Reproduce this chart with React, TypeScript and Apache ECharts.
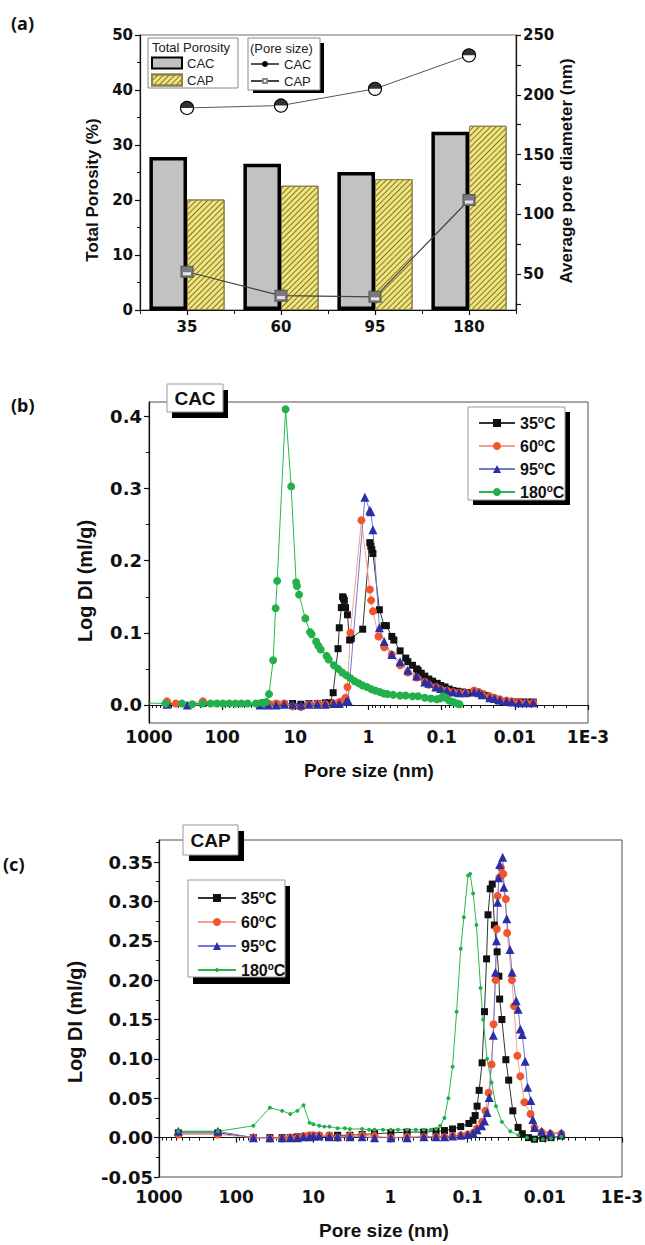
import React, { useEffect, useRef } from 'react';
import * as echarts from 'echarts';

// ---------- Panel (a) data ----------
const temperatures = ['35', '60', '95', '180'];
const porosityCAC = [27.8, 26.6, 25.1, 32.4];
const porosityCAP = [20.1, 22.6, 23.8, 33.5];
const poreSizeCAC = [189, 191, 205, 233];
const poreSizeCAP = [52, 32, 31, 112];
const rightTickLabels = [50, 100, 150, 200, 250];
const rightTicks = [25, 50, 75, 100, 125, 150, 175, 200, 225, 250];

// ---------- Panel (b) CAC data: [pore size (nm), Log DI (ml/g)] ----------
const cac35 = [
  [570, 0.002], [183, 0.002], [30.4, 0.001], [23.6, 0.001], [18.3, 0.001], [14.2, 0.001], [10.9, 0.002], [8.4, 0.001],
  [6.5, 0.002], [5.0, 0.002], [3.9, 0.003], [3.37, 0.003], [3.04, 0.017], [2.61, 0.078], [2.51, 0.107], [2.35, 0.135],
  [2.26, 0.15], [2.2, 0.148], [2.14, 0.145], [2.06, 0.135], [1.94, 0.125], [1.81, 0.09], [1.72, 0.092], [1.2, 0.105],
  [0.96, 0.225], [0.93, 0.22], [0.9, 0.215], [0.87, 0.21], [0.71, 0.132], [0.61, 0.11], [0.57, 0.11], [0.48, 0.095],
  [0.45, 0.09], [0.37, 0.075], [0.31, 0.065], [0.29, 0.06], [0.25, 0.055], [0.22, 0.05], [0.21, 0.048], [0.19, 0.044],
  [0.17, 0.04], [0.15, 0.036], [0.133, 0.033], [0.115, 0.03], [0.103, 0.027], [0.09, 0.025], [0.079, 0.022], [0.07, 0.02],
  [0.061, 0.019], [0.053, 0.018], [0.047, 0.017], [0.041, 0.017], [0.036, 0.018], [0.032, 0.017], [0.028, 0.015],
  [0.025, 0.013], [0.022, 0.01], [0.019, 0.008], [0.0168, 0.006], [0.0145, 0.005], [0.013, 0.004], [0.0114, 0.004],
  [0.01, 0.004], [0.0088, 0.004], [0.0077, 0.004], [0.0066, 0.004], [0.0056, 0.004],
];
const cac60 = [
  [570, 0.005], [430, 0.002], [183, 0.005], [30.4, 0.002], [23.6, 0.001], [18.3, 0.002], [14.2, 0.002], [10.9, -0.002],
  [8.4, -0.003], [6.5, 0.001], [5.0, 0.002], [3.9, 0.001], [3.0, 0.002], [2.5, 0.004], [2.29, 0.005], [2.06, 0.01],
  [1.94, 0.025], [1.77, 0.1], [1.25, 0.256], [0.96, 0.16], [0.92, 0.145], [0.87, 0.13], [0.73, 0.095], [0.61, 0.08],
  [0.48, 0.07], [0.37, 0.055], [0.29, 0.045], [0.22, 0.038], [0.17, 0.032], [0.15, 0.028], [0.12, 0.025], [0.103, 0.022],
  [0.085, 0.02], [0.07, 0.018], [0.058, 0.017], [0.047, 0.017], [0.036, 0.02], [0.031, 0.018], [0.028, 0.015],
  [0.022, 0.012], [0.019, 0.01], [0.016, 0.008], [0.013, 0.006], [0.011, 0.005], [0.0088, 0.004], [0.007, 0.003],
  [0.0056, 0.003],
];
const cac95 = [
  [570, 0.001], [300, 0.0], [30.4, 0.0], [23.6, 0.0], [18.3, 0.0], [14.2, 0.001], [10.9, 0.001], [8.4, 0.0], [6.5, 0.001],
  [5.0, 0.001], [3.9, 0.001], [3.0, 0.002], [2.5, 0.002], [2.01, 0.005], [1.9, 0.006], [1.12, 0.288], [0.96, 0.27],
  [0.93, 0.268], [0.87, 0.243], [0.71, 0.107], [0.61, 0.088], [0.48, 0.07], [0.37, 0.06], [0.29, 0.048], [0.22, 0.04],
  [0.17, 0.032], [0.15, 0.03], [0.12, 0.025], [0.103, 0.023], [0.085, 0.02], [0.07, 0.018], [0.058, 0.017],
  [0.047, 0.017], [0.036, 0.018], [0.031, 0.017], [0.028, 0.014], [0.022, 0.01], [0.019, 0.009], [0.016, 0.007],
  [0.013, 0.005], [0.011, 0.004], [0.0088, 0.003], [0.007, 0.003], [0.0056, 0.003],
];
const cac180 = [
  [1500, 0.003], [596, 0.002], [355, 0.002], [257, 0.001], [186, 0.002], [144, 0.002], [118, 0.002], [97.5, 0.002],
  [80, 0.002], [66, 0.002], [54.5, 0.002], [44.9, 0.002], [34.6, 0.002], [28.5, 0.003], [25.1, 0.004], [22.9, 0.015],
  [20.1, 0.062], [18.6, 0.134], [17.7, 0.172], [13.6, 0.41], [11.4, 0.303], [9.75, 0.17], [9.5, 0.165], [8.9, 0.153],
  [7.3, 0.12], [6.3, 0.101], [6.0, 0.098], [5.2, 0.088], [4.85, 0.082], [4.5, 0.077], [3.74, 0.068], [3.5, 0.063],
  [2.97, 0.055], [2.6, 0.05], [2.29, 0.045], [2.0, 0.041], [1.77, 0.037], [1.55, 0.033], [1.36, 0.03], [1.2, 0.027],
  [1.05, 0.025], [0.92, 0.022], [0.81, 0.02], [0.7, 0.018], [0.62, 0.016], [0.55, 0.015], [0.46, 0.014], [0.37, 0.013],
  [0.31, 0.013], [0.25, 0.012], [0.21, 0.012], [0.17, 0.01], [0.14, 0.009], [0.117, 0.008], [0.105, 0.009],
  [0.096, 0.012], [0.088, 0.01], [0.079, 0.006], [0.07, 0.004], [0.061, 0.002], [0.057, 0.001],
];

// ---------- Panel (c) CAP data ----------
const cap35 = [
  [562, 0.006], [173, 0.006], [59.8, 0.0], [36.6, 0.0], [25.4, 0.0], [19.9, 0.0], [16.1, 0.001], [13.4, 0.001],
  [11.2, 0.002], [10, 0.002], [8.4, 0.002], [6.2, 0.002], [4.85, 0.003], [3.36, 0.003], [2.33, 0.004], [1.61, 0.005],
  [0.99, 0.006], [0.61, 0.007], [0.37, 0.007], [0.257, 0.008], [0.2, 0.009], [0.157, 0.011], [0.123, 0.014],
  [0.0964, 0.018], [0.085, 0.022], [0.08, 0.028], [0.0755, 0.04], [0.071, 0.06], [0.065, 0.095], [0.0605, 0.16],
  [0.0569, 0.227], [0.0545, 0.283], [0.051, 0.316], [0.048, 0.322], [0.045, 0.27], [0.0415, 0.236], [0.0394, 0.205],
  [0.0385, 0.176], [0.036, 0.15], [0.032, 0.099], [0.0294, 0.073], [0.026, 0.034], [0.0222, 0.013], [0.0196, 0.005],
  [0.0163, 0.0], [0.0136, -0.002], [0.0106, -0.001], [0.0083, 0.0], [0.0061, 0.002],
];
const cap60 = [
  [562, 0.004], [173, 0.004], [59.8, 0.0], [36.6, -0.001], [25.4, -0.001], [19.9, 0.0], [16.1, 0.0], [13.4, 0.002],
  [11.2, 0.003], [10, 0.003], [8.4, 0.003], [6.2, 0.003], [4.85, 0.0], [3.36, 0.002], [2.33, 0.003], [1.61, 0.002],
  [0.99, 0.0], [0.61, 0.001], [0.37, 0.001], [0.257, 0.001], [0.2, 0.001], [0.157, 0.002], [0.123, 0.003], [0.1, 0.004],
  [0.085, 0.006], [0.0755, 0.012], [0.065, 0.02], [0.059, 0.034], [0.0536, 0.057], [0.049, 0.093], [0.0462, 0.144],
  [0.0435, 0.2], [0.0419, 0.265], [0.0409, 0.307], [0.039, 0.33], [0.0371, 0.343], [0.0345, 0.335], [0.032, 0.303],
  [0.0308, 0.26], [0.0267, 0.2], [0.0251, 0.167], [0.0227, 0.104], [0.0208, 0.078], [0.0184, 0.045], [0.0153, 0.03],
  [0.0136, 0.013], [0.011, 0.007], [0.0085, 0.005], [0.0061, 0.005],
];
const cap95 = [
  [562, 0.008], [173, 0.008], [59.8, 0.0], [36.6, 0.0], [25.4, 0.0], [19.9, 0.0], [16.1, 0.0], [13.4, 0.001],
  [11.2, 0.001], [10, 0.002], [8.4, 0.002], [6.2, 0.001], [4.85, 0.001], [3.36, 0.001], [2.33, 0.001], [1.61, 0.0],
  [0.99, 0.0], [0.61, 0.0], [0.37, 0.001], [0.257, 0.001], [0.2, 0.001], [0.157, 0.002], [0.123, 0.003], [0.1, 0.004],
  [0.085, 0.006], [0.0755, 0.01], [0.066, 0.015], [0.0605, 0.021], [0.056, 0.032], [0.0526, 0.051], [0.0465, 0.13],
  [0.0436, 0.21], [0.0424, 0.25], [0.0409, 0.299], [0.0397, 0.33], [0.0385, 0.347], [0.0352, 0.356], [0.034, 0.318],
  [0.0312, 0.278], [0.0283, 0.239], [0.0266, 0.21], [0.0235, 0.174], [0.0222, 0.163], [0.0208, 0.138], [0.0196, 0.131],
  [0.018, 0.097], [0.0167, 0.064], [0.0152, 0.047], [0.0143, 0.023], [0.0136, 0.013], [0.011, 0.008], [0.0085, 0.006],
  [0.0061, 0.006],
];
const cap180 = [
  [562, 0.008], [173, 0.008], [59.8, 0.015], [36.6, 0.038], [25.4, 0.034], [19.9, 0.03], [16.1, 0.034], [13.4, 0.041],
  [11.2, 0.019], [10, 0.017], [8.4, 0.015], [7.2, 0.014], [6.2, 0.014], [4.85, 0.012], [3.9, 0.012], [3.36, 0.011],
  [2.33, 0.011], [1.9, 0.01], [1.61, 0.01], [1.25, 0.01], [0.99, 0.01], [0.8, 0.01], [0.61, 0.01], [0.47, 0.01],
  [0.37, 0.01], [0.3, 0.01], [0.257, 0.011], [0.227, 0.015], [0.2, 0.025], [0.178, 0.05], [0.157, 0.09], [0.139, 0.16],
  [0.123, 0.24], [0.112, 0.28], [0.0988, 0.333], [0.093, 0.335], [0.085, 0.31], [0.077, 0.27], [0.068, 0.19],
  [0.063, 0.15], [0.056, 0.1], [0.049, 0.07], [0.043, 0.04], [0.036, 0.02], [0.028, 0.008], [0.022, 0.003],
  [0.017, 0.0], [0.0136, -0.002], [0.0106, -0.002], [0.0083, -0.001], [0.0061, 0.001],
];

// ---------- tick lists ----------
const logMajorTicks = [1000, 100, 10, 1, 0.1, 0.01, 0.001];
const yTicksB = [0, 0.1, 0.2, 0.3, 0.4];
const yMinorB = [0.05, 0.15, 0.25, 0.35];
const yTicksC = [-0.05, 0, 0.05, 0.1, 0.15, 0.2, 0.25, 0.3, 0.35];
const yMinorC = [-0.025, 0.025, 0.075, 0.125, 0.175, 0.225, 0.275, 0.325, 0.375];

const logMinorTicks: number[] = [];
for (let e = -3; e < 3; e++) {
  for (let k = 2; k <= 9; k++) logMinorTicks.push(Number((k * Math.pow(10, e)).toPrecision(4)));
}

const FT = 'DejaVu Sans';
const FA = 'Liberation Sans, Arial, sans-serif';
const AX = '#111';

function logLabel(v: number): string {
  const e = Math.round(Math.log10(v));
  if (e <= -3) return '1E-3';
  if (e >= 0) return String(Math.round(Math.pow(10, e)));
  return Math.pow(10, e).toFixed(-e);
}

const LOG_MIN = 0.0009999;
const LOG_MAX = 1000.1;

function logAxis(grid: number, margin: number, fontSize: number) {
  return {
    type: 'log', gridIndex: grid, logBase: 10, min: LOG_MIN, max: LOG_MAX, inverse: true, position: 'bottom',
    axisLine: { show: true, lineStyle: { color: AX, width: 1.2 } },
    axisTick: { show: true, length: 5, customValues: logMajorTicks, lineStyle: { color: AX, width: 1.2 } },
    axisLabel: { customValues: logMajorTicks, formatter: logLabel, margin, fontFamily: FT, fontWeight: 'bold', fontSize, color: AX },
    splitLine: { show: false }, minorTick: { show: false },
  };
}
function logMinorAxis(grid: number) {
  return {
    type: 'log', gridIndex: grid, logBase: 10, min: LOG_MIN, max: LOG_MAX, inverse: true, position: 'bottom',
    axisLine: { show: false },
    axisTick: { show: true, length: 3, customValues: logMinorTicks, lineStyle: { color: AX, width: 1 } },
    axisLabel: { show: false }, splitLine: { show: false },
  };
}
function valAxis(grid: number, min: number, max: number, ticks: number[], digits: number, fontSize: number, margin: number) {
  return {
    type: 'value', gridIndex: grid, min, max, position: 'left',
    axisLine: { show: true, lineStyle: { color: AX, width: 1.2 } },
    axisTick: { show: true, length: 5, customValues: ticks, lineStyle: { color: AX, width: 1.2 } },
    axisLabel: { customValues: ticks, formatter: (v: number) => v.toFixed(digits), margin, fontFamily: FT, fontWeight: 'bold', fontSize, color: AX },
    splitLine: { show: false },
  };
}
function valMinorAxis(grid: number, min: number, max: number, ticks: number[]) {
  return {
    type: 'value', gridIndex: grid, min, max, position: 'left',
    axisLine: { show: false },
    axisTick: { show: true, length: 3, customValues: ticks, lineStyle: { color: AX, width: 1 } },
    axisLabel: { show: false }, splitLine: { show: false },
  };
}

const halfDisc = 'path://M0,10 A10,10 0 0 1 20,10 Z';

function tempSeries(name: string, data: number[][], xi: number, yi: number, kind: string, small: boolean) {
  const styles: Record<string, any> = {
    '35': { symbol: 'rect', symbolSize: 7, color: '#111111', line: '#333333' },
    '60': { symbol: 'circle', symbolSize: 8, color: '#f2552c', line: '#f5a08a' },
    '95': { symbol: 'triangle', symbolSize: 9, color: '#2a2fa6', line: '#7078d8' },
    '180': { symbol: 'circle', symbolSize: small ? 4 : 8, color: '#22b04c', line: '#2cb553' },
  };
  const s = styles[kind];
  return {
    type: 'line', name, xAxisIndex: xi, yAxisIndex: yi, data,
    symbol: s.symbol, symbolSize: s.symbolSize, showSymbol: true, clip: true,
    itemStyle: { color: s.color },
    lineStyle: { color: s.line, width: 1 },
  };
}

function boxRect(x: number, y: number, w: number, h: number, stroke: string, z: number) {
  return { type: 'rect', z, shape: { x, y, width: w, height: h }, style: { fill: '#fff', stroke, lineWidth: 1 } };
}
function shadowRect(x: number, y: number, w: number, h: number, z: number) {
  return { type: 'rect', z, shape: { x, y, width: w, height: h }, style: { fill: '#000' } };
}
function label(text: string, x: number, y: number, size: number, opts: any = {}) {
  return {
    type: 'text', z: 5, x, y, rotation: opts.rotation || 0,
    style: {
      text, fontFamily: opts.family || FA, fontWeight: opts.weight || 'bold', fontSize: size, fill: opts.color || '#111',
      align: opts.align || 'center', verticalAlign: 'middle',
    },
  };
}

const degRich = { s: { fontSize: 10, fontWeight: 'bold', fontFamily: FA, verticalAlign: 'top', color: '#111' } };
const tempLegendText = { fontFamily: FA, fontWeight: 'bold', fontSize: 16, color: '#111', lineHeight: 18, rich: degRich };
const tempFormatter = (n: string) => n.slice(1) + '{s|o}C';

function buildOption() {
  return {
    animation: false,
    backgroundColor: '#fff',
    grid: [
      { left: 140, top: 35, width: 376, height: 275, show: true, borderColor: '#7a6a66', borderWidth: 1, outerBoundsMode: 'none' },
      { left: 149, top: 402, width: 439, height: 321, show: true, borderColor: '#5a4a45', borderWidth: 1, outerBoundsMode: 'none' },
      { left: 159, top: 840, width: 463, height: 337, show: true, borderColor: '#5a4a45', borderWidth: 1, outerBoundsMode: 'none' },
    ],
    xAxis: [
      {
        type: 'category', gridIndex: 0, data: temperatures, position: 'bottom',
        axisLine: { show: true, lineStyle: { color: AX, width: 1.2 } },
        axisTick: { show: true, alignWithLabel: true, length: 5, lineStyle: { color: AX, width: 1.2 } },
        axisLabel: { margin: 9, fontFamily: FT, fontWeight: 'bold', fontSize: 15, color: AX },
        splitLine: { show: false },
      },
      {
        type: 'category', gridIndex: 0, data: temperatures, position: 'bottom',
        axisLine: { show: false },
        axisTick: { show: true, alignWithLabel: false, interval: 0, length: 4, lineStyle: { color: AX, width: 1 } },
        axisLabel: { show: false }, splitLine: { show: false },
      },
      logAxis(1, 5, 17),
      logMinorAxis(1),
      logAxis(2, 11, 17),
      logMinorAxis(2),
    ],
    yAxis: [
      {
        type: 'value', gridIndex: 0, min: 0, max: 50, interval: 10, position: 'left',
        axisLine: { show: true, lineStyle: { color: AX, width: 1.2 } },
        axisTick: { show: true, length: 5, lineStyle: { color: AX, width: 1.2 } },
        minorTick: { show: true, splitNumber: 2, length: 3, lineStyle: { color: AX } },
        axisLabel: { margin: 7, fontFamily: FT, fontWeight: 'bold', fontSize: 15, color: AX },
        splitLine: { show: false },
      },
      {
        type: 'value', gridIndex: 0, min: 20, max: 250, position: 'right',
        axisLine: { show: true, lineStyle: { color: AX, width: 1.2 } },
        axisTick: { show: true, length: 5, customValues: rightTicks, lineStyle: { color: AX, width: 1.2 } },
        axisLabel: { customValues: rightTickLabels, margin: 7, fontFamily: FT, fontWeight: 'bold', fontSize: 15, color: AX },
        splitLine: { show: false },
      },
      valAxis(1, -0.025, 0.42, yTicksB, 1, 18, 7),
      valMinorAxis(1, -0.025, 0.42, yMinorB),
      valAxis(2, -0.05, 0.378, yTicksC, 2, 18, 6),
      valMinorAxis(2, -0.05, 0.378, yMinorC),
    ],
    legend: [
      {
        left: 151, top: 56.5, orient: 'vertical', itemWidth: 30, itemHeight: 11, itemGap: 4, padding: 0, icon: 'rect',
        selectedMode: false, data: ['Porosity CAC', 'Porosity CAP'],
        formatter: (n: string) => n.split(' ')[1],
        textStyle: { fontFamily: FA, fontSize: 13, color: '#222', lineHeight: 12 },
      },
      {
        left: 250, top: 57.5, orient: 'vertical', itemWidth: 28, itemHeight: 5, itemGap: 4, padding: 0,
        selectedMode: false,
        data: [
          { name: 'Pore CAC', itemStyle: { color: '#000', borderColor: '#000' } },
          { name: 'Pore CAP', itemStyle: { color: '#fff', borderColor: '#888' } },
        ],
        formatter: (n: string) => n.split(' ')[1],
        textStyle: { fontFamily: FA, fontSize: 13, color: '#222', lineHeight: 13 },
      },
      {
        left: 478, top: 414, orient: 'vertical', itemWidth: 36, itemHeight: 10, itemGap: 5, padding: 0,
        selectedMode: false, data: ['b35', 'b60', 'b95', 'b180'],
        formatter: tempFormatter, textStyle: tempLegendText,
      },
      {
        left: 197, top: 889, orient: 'vertical', itemWidth: 38, itemHeight: 10, itemGap: 6, padding: 0,
        selectedMode: false, data: ['c35', 'c60', 'c95'],
        formatter: tempFormatter, textStyle: tempLegendText,
      },
      {
        left: 197, top: 961, orient: 'vertical', itemWidth: 38, itemHeight: 5, itemGap: 6, padding: 0,
        selectedMode: false, data: ['c180'],
        formatter: tempFormatter, textStyle: tempLegendText,
      },
    ],
    series: [
      {
        type: 'bar', name: 'Porosity CAC', xAxisIndex: 0, yAxisIndex: 0, data: porosityCAC,
        barWidth: '40%', barGap: '0%',
        itemStyle: { color: '#c2c2c2', borderColor: '#000', borderWidth: 3.5 },
      },
      {
        type: 'bar', name: 'Porosity CAP', xAxisIndex: 0, yAxisIndex: 0, data: porosityCAP,
        barWidth: '40%', barGap: '0%',
        itemStyle: {
          color: '#efe47e', borderColor: '#8a8250', borderWidth: 1,
          decal: {
            symbol: 'rect', symbolSize: 1, dashArrayX: [1, 0], dashArrayY: [1, 3],
            rotation: -Math.PI / 4, color: 'rgba(110,100,30,0.85)', backgroundColor: '#efe47e',
          },
        },
      },
      {
        type: 'line', name: 'Pore CAC', xAxisIndex: 0, yAxisIndex: 1, data: poreSizeCAC, z: 5,
        symbol: 'circle', symbolSize: 13,
        itemStyle: { color: '#fff', borderColor: '#000', borderWidth: 1.2 },
        lineStyle: { color: '#555', width: 1 },
      },
      {
        type: 'scatter', name: 'Pore CAC top', xAxisIndex: 0, yAxisIndex: 1, data: poreSizeCAC, z: 6, silent: true,
        symbol: halfDisc, symbolSize: [13, 6.5], symbolOffset: [0, -3.25], itemStyle: { color: '#000' },
      },
      {
        type: 'line', name: 'Pore CAP', xAxisIndex: 0, yAxisIndex: 1, data: poreSizeCAP, z: 5,
        symbol: 'rect', symbolSize: [12, 11],
        itemStyle: { color: '#7a7a7a', borderColor: '#555', borderWidth: 1 },
        lineStyle: { color: '#444', width: 1.2 },
      },
      {
        type: 'scatter', name: 'Pore CAP band', xAxisIndex: 0, yAxisIndex: 1, data: poreSizeCAP, z: 6, silent: true,
        symbol: 'rect', symbolSize: [8, 3], symbolOffset: [0, 2], itemStyle: { color: '#fff' },
      },
      tempSeries('b35', cac35, 2, 2, '35', false),
      tempSeries('b60', cac60, 2, 2, '60', false),
      tempSeries('b95', cac95, 2, 2, '95', false),
      tempSeries('b180', cac180, 2, 2, '180', false),
      tempSeries('c35', cap35, 4, 4, '35', false),
      tempSeries('c60', cap60, 4, 4, '60', false),
      tempSeries('c95', cap95, 4, 4, '95', false),
      tempSeries('c180', cap180, 4, 4, '180', true),
    ],
    graphic: [
      // panel labels
      label('(a)', 11, 23, 18, { align: 'left', family: 'Noto Sans' }),
      label('(b)', 11, 405, 18, { align: 'left', family: 'Noto Sans' }),
      label('(c)', 3, 864, 18, { align: 'left', family: 'Noto Sans' }),
      // axis titles
      label('Total Porosity (%)', 92, 190, 17, { rotation: Math.PI / 2 }),
      label('Average pore diameter (nm)', 566, 171, 17, { rotation: Math.PI / 2 }),
      label('Log DI (ml/g)', 85, 581, 20, { rotation: Math.PI / 2 }),
      label('Pore size (nm)', 369, 770, 19),
      label('Log DI (ml/g)', 75, 1022, 20, { rotation: Math.PI / 2 }),
      label('Pore size (nm)', 384, 1230, 19),
      // panel (a) legend boxes
      boxRect(148, 38, 90, 50, '#8a8a8a', 3),
      label('Total Porosity', 152, 47, 13, { align: 'left', weight: 'normal', color: '#222' }),
      shadowRect(253, 43, 71, 50, 3),
      boxRect(248, 38, 72, 52, '#8a8a8a', 3),
      label('(Pore size)', 250, 48, 13, { align: 'left', weight: 'normal', color: '#222' }),
      // panel (b) boxes
      shadowRect(172, 390, 56, 28, 3),
      boxRect(167, 384, 56, 28, '#999', 3),
      label('CAC', 195, 398, 19),
      shadowRect(473, 412, 97, 93, 3),
      boxRect(468, 407, 97, 93, '#999', 3),
      // panel (c) boxes
      shadowRect(189, 831, 55, 30, 3),
      boxRect(183, 825, 55, 30, '#999', 3),
      label('CAP', 210.5, 840, 19),
      shadowRect(193, 886, 97, 98, 3),
      boxRect(188, 880, 97, 97, '#999', 3),
    ],
  };
}

export default function App() {
  const ref = useRef<HTMLDivElement>(null);
  useEffect(() => {
    const el = ref.current;
    if (!el) return;
    const chart = echarts.init(el, null, { renderer: 'svg', width: 645, height: 1245 });
    chart.setOption(buildOption() as any);
    return () => chart.dispose();
  }, []);
  return (
    <div
      ref={ref}
      style={{ position: 'absolute', left: 0, top: 0, width: 645, height: 1245, background: '#fff' }}
    />
  );
}
